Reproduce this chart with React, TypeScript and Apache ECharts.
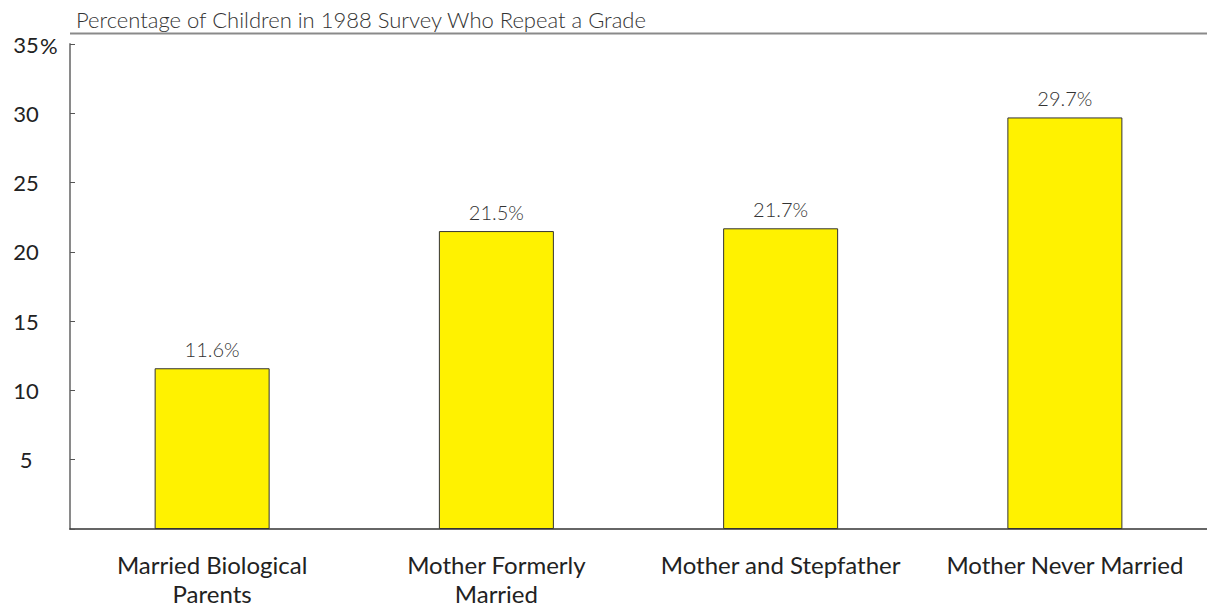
import React, { useEffect, useRef } from "react";
import * as echarts from "echarts";

const titleText = "Percentage of Children in 1988 Survey Who Repeat a Grade";
const categories = [
  "Married Biological\nParents",
  "Mother Formerly\nMarried",
  "Mother and Stepfather",
  "Mother Never Married",
];
const values = [11.6, 21.5, 21.7, 29.7];
const yTicks = [5, 10, 15, 20, 25, 30, 35];

const FONT = "Lato, 'Open Sans', sans-serif";

export default function App() {
  const ref = useRef<HTMLDivElement>(null);
  useEffect(() => {
    if (!ref.current) return;
    const chart = echarts.init(ref.current, undefined, { renderer: "svg" });
    chart.setOption({
      animation: false,
      backgroundColor: "#ffffff",
      title: {
        text: titleText,
        left: 71,
        top: 3,
        textStyle: { fontFamily: FONT, fontSize: 22, fontWeight: 300, color: "#333" },
      },
      grid: { left: 70, right: 0, top: 44, bottom: 76, containLabel: false },
      xAxis: {
        type: "category",
        data: categories,
        axisLine: { show: true, lineStyle: { color: "#333", width: 1.5 } },
        axisTick: { show: false },
        axisLabel: {
          fontFamily: FONT,
          fontSize: 24,
          color: "#222",
          margin: 21,
          lineHeight: 29,
          interval: 0,
        },
      },
      yAxis: {
        type: "value",
        min: 0,
        max: 35,
        interval: 5,
        splitLine: { show: false },
        axisLine: { show: true, lineStyle: { color: "#8a8a8a", width: 2 } },
        axisTick: { show: true, inside: true, length: 5, lineStyle: { color: "#555", width: 1 } },
        axisLabel: {
          fontFamily: FONT,
          fontSize: 22,
          color: "#222",
          align: "center",
          margin: 44,
          formatter: (v: number) => (yTicks.includes(v) ? String(v) : ""),
        },
      },
      graphic: [
        {
          type: "line",
          shape: { x1: 70, y1: 33.5, x2: 1207, y2: 33.5 },
          style: { stroke: "#8a8a8a", lineWidth: 2 },
        },
        {
          type: "text",
          x: 40,
          y: 45,
          style: {
            text: "%",
            font: `22px ${FONT}`,
            fill: "#222",
            textAlign: "left",
            textVerticalAlign: "middle",
          },
        },
      ],
      series: [
        {
          type: "bar",
          data: values,
          barWidth: 115,
          itemStyle: { color: "#FFF200", borderColor: "#333", borderWidth: 1 },
          label: {
            show: true,
            position: "top",
            distance: 9,
            fontFamily: FONT,
            fontSize: 20,
            fontWeight: 300,
            color: "#333",
            formatter: (p: any) => `${p.value}%`,
          },
        },
      ],
    });
    return () => chart.dispose();
  }, []);
  return (
    <div
      ref={ref}
      style={{ position: "absolute", left: 0, top: 0, width: 1207, height: 608 }}
    />
  );
}
